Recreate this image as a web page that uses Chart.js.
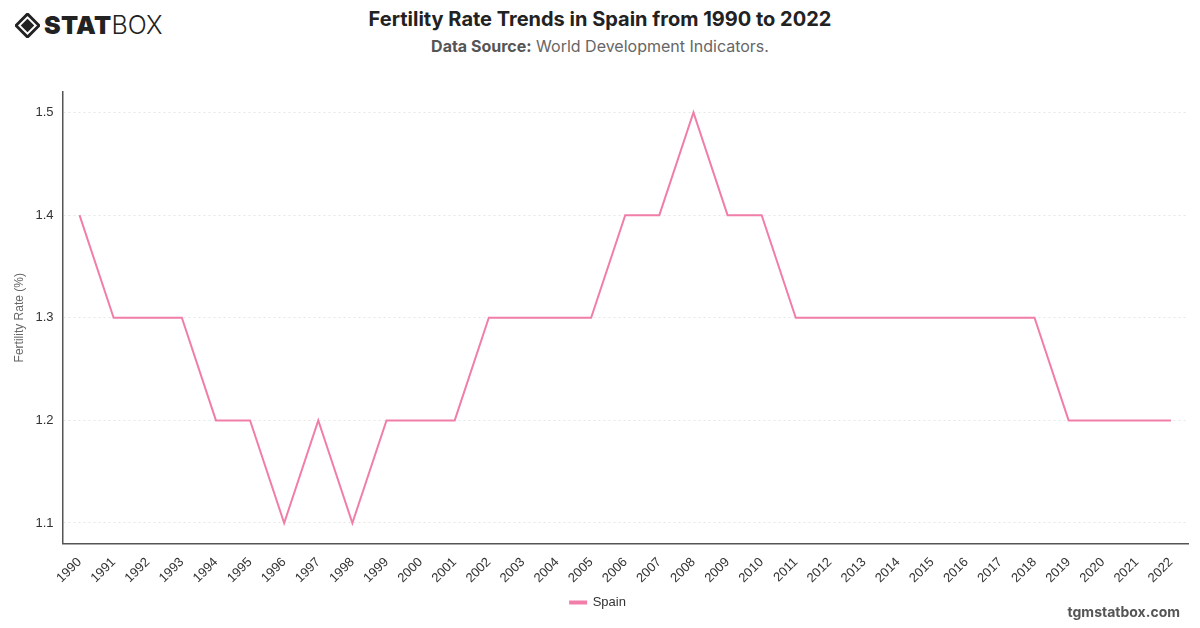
<!DOCTYPE html>
<html>
<head>
<meta charset="utf-8">
<script src="https://cdn.jsdelivr.net/npm/chart.js@4"></script>
<style>
  body { margin: 0; width: 1200px; height: 628px; background: #fff; font-family: "Inter", "Helvetica Neue", Arial, sans-serif; position: relative; overflow: hidden; }
  .logo { position: absolute; left: 15px; top: 10px; display: flex; align-items: center; color: #222; }
  .logo span.b { font-weight: 900; font-size: 25px; letter-spacing: 0.3px; }
  .logo span.l { font-weight: 300; font-size: 25px; }
  .title { position: absolute; top: 7px; left: 0; width: 1200px; text-align: center; font-weight: 700; font-size: 20px; color: #222; }
  .sub { position: absolute; top: 36px; left: 0; width: 1200px; text-align: center; font-size: 16px; color: #666; }
  .sub b { color: #555; }
  .foot { position: absolute; right: 20px; top: 603px; font-weight: 700; font-size: 14px; color: #555; }
  #wrap { position: absolute; left: 0; top: 70px; width: 1200px; height: 558px; }
</style>
</head>
<body>
<div class="logo">
  <svg width="25" height="25" viewBox="0 0 26 26" style="margin-right:4px">
    <path d="M13 1 L25 13 L13 25 L1 13 Z" fill="none" stroke="#222" stroke-width="3"/>
    <path d="M13 6 L20 13 L13 20 L6 13 Z" fill="#222"/>
  </svg>
  <span class="b">STAT</span><span class="l">BOX</span>
</div>
<div class="title">Fertility Rate Trends in Spain from 1990 to 2022</div>
<div class="sub"><b>Data Source:</b> World Development Indicators.</div>
<div id="wrap"><canvas id="c"></canvas></div>
<div class="foot">tgmstatbox.com</div>
<script>
const years = ['1990','1991','1992','1993','1994','1995','1996','1997','1998','1999','2000','2001','2002','2003','2004','2005','2006','2007','2008','2009','2010','2011','2012','2013','2014','2015','2016','2017','2018','2019','2020','2021','2022'];
const spain = [1.4,1.3,1.3,1.3,1.2,1.2,1.1,1.2,1.1,1.2,1.2,1.2,1.3,1.3,1.3,1.3,1.4,1.4,1.5,1.4,1.4,1.3,1.3,1.3,1.3,1.3,1.3,1.3,1.3,1.2,1.2,1.2,1.2];
const yTicks = [1.1, 1.2, 1.3, 1.4, 1.5];

new Chart(document.getElementById('c'), {
  type: 'line',
  data: {
    labels: years,
    datasets: [{
      label: 'Spain',
      data: spain,
      borderColor: '#F07EA9',
      backgroundColor: '#F07EA9',
      borderWidth: 2,
      pointRadius: 0,
      tension: 0
    }]
  },
  options: {
    responsive: true,
    maintainAspectRatio: false,
    animation: false,
    layout: { padding: { top: 22, right: 12, left: 8, bottom: 9 } },
    plugins: {
      legend: {
        position: 'bottom',
        labels: { boxWidth: 16, boxHeight: 2, padding: 7, color: '#333', font: { size: 13 } }
      },
      tooltip: { enabled: false }
    },
    scales: {
      x: {
        offset: true,
        grid: { display: false },
        border: { display: true, color: '#555', width: 1.5 },
        ticks: { color: '#333', font: { size: 13 }, maxRotation: 45, minRotation: 45, autoSkip: false }
      },
      y: {
        min: 1.08,
        max: 1.52,
        afterBuildTicks: (axis) => { axis.ticks = yTicks.map(v => ({ value: v })); },
        grid: { color: '#e6e6e6', drawTicks: false },
        border: { display: true, color: '#555', width: 1.5, dash: [2, 3] },
        ticks: { color: '#333', font: { size: 13 }, padding: 9 },
        title: { display: true, text: 'Fertility Rate (%)', color: '#666', font: { size: 12 }, padding: { top: 4, bottom: 0 } }
      }
    }
  }
});
</script>
</body>
</html>
